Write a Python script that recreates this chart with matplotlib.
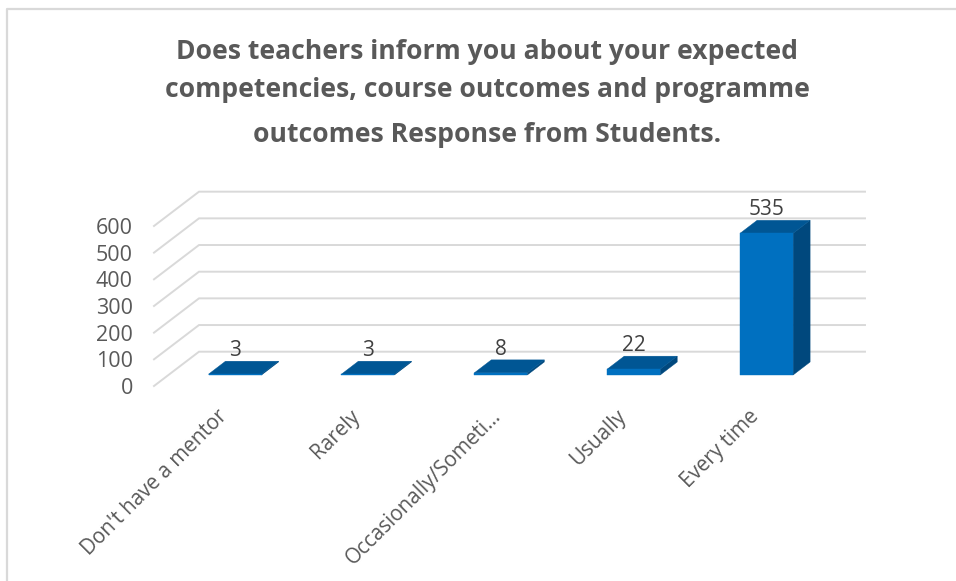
import matplotlib
matplotlib.use("Agg")
import matplotlib.pyplot as plt
from matplotlib.lines import Line2D
from matplotlib.patches import Polygon

plt.rcParams['font.family'] = ['Open Sans', 'DejaVu Sans']

# Data
categories = ["Don't have a mentor", "Rarely", "Occasionally/Someti\u2026", "Usually", "Every time"]
values = [3, 3, 8, 22, 535]
ticks = [0, 100, 200, 300, 400, 500, 600]
title_lines = ["Does teachers inform you about your expected",
               "competencies, course outcomes and programme",
               "outcomes Response from Students."]

# Pseudo 3d geometry, in axis units
W, H = 956, 581
PX_X = 132.9      # pixels per category
PX_Y = 0.2667     # pixels per value unit
BAR_SCALE = 0.993 # bars sit on the front plane, a bit smaller than the back wall
BAR_W = 53 / PX_X
DEPTH_X = 17 / PX_X
DEPTH_Y = 13 / PX_Y
WALL_LEFT = (154 - 235) / PX_X
WALL_BACK = (199 - 235) / PX_X
WALL_RIGHT = (865 - 235) / PX_X
FRONT_Y = -11 / PX_Y   # where the front of the gridlines sits
BACK_Y = 23.3 / PX_Y   # where the back wall sits
LONG_LABEL_SHIFT = 8   # the truncated label sits a bit further right

FRONT_COLOR = "#0070c0"
TOP_COLOR = "#005694"
SIDE_COLOR = "#00487d"
GRID_COLOR = "#d9d9d9"

fig = plt.figure(figsize=(W / 100, H / 100), dpi=100)
ax = fig.add_axes([0, 0, 1, 1])
ax.set_xlim(-235 / PX_X, (W - 235) / PX_X)
ax.set_ylim(-(H - 375) / PX_Y, 375 / PX_Y)
ax.axis("off")

# chart border
fig.add_artist(Line2D([6.5 / W, 6.5 / W, 1], [0, 1 - 8.5 / H, 1 - 8.5 / H], color="#d9d9d9", lw=1.6))

# title
for line, py in zip(title_lines, [52, 90, 135]):
    ax.text(487 / W, 1 - py / H, line, transform=ax.transAxes, ha="center", va="center",
            fontsize=19.1, fontweight="bold", color="#595959")

# gridlines and value labels
for t in ticks:
    ax.plot([WALL_LEFT, WALL_BACK, WALL_RIGHT], [t + FRONT_Y, t + BACK_Y, t + BACK_Y],
            color=GRID_COLOR, lw=1.4, zorder=1, solid_joinstyle="miter")
    ax.text((133 - 235) / PX_X, t + FRONT_Y, str(t), ha="right", va="center_baseline",
            fontsize=15.5, color="#595959")

# bars
for i, (cat, v) in enumerate(zip(categories, values)):
    h = v * BAR_SCALE
    x0 = i - BAR_W / 2
    x1 = i + BAR_W / 2
    front = [(x0, 0), (x1, 0), (x1, h), (x0, h)]
    top = [(x0, h), (x1, h), (x1 + DEPTH_X, h + DEPTH_Y), (x0 + DEPTH_X, h + DEPTH_Y)]
    side = [(x1, 0), (x1 + DEPTH_X, DEPTH_Y), (x1 + DEPTH_X, h + DEPTH_Y), (x1, h)]
    ax.add_patch(Polygon(side, closed=True, fc=SIDE_COLOR, ec=SIDE_COLOR, lw=0.3, zorder=2))
    ax.add_patch(Polygon(top, closed=True, fc=TOP_COLOR, ec=TOP_COLOR, lw=0.3, zorder=2))
    ax.add_patch(Polygon(front, closed=True, fc=FRONT_COLOR, ec=FRONT_COLOR, lw=0.3, zorder=3))

    ax.text(i, h + DEPTH_Y + 13 / PX_Y, str(v), ha="center", va="center_baseline",
            fontsize=15, color="#404040", zorder=4)

    # category label, its end sits under the bar
    shift = LONG_LABEL_SHIFT if cat.endswith("\u2026") else 0
    ax.text(i + (shift - 18) / PX_X, -31 / PX_Y, cat, ha="right", va="top", rotation=45,
            rotation_mode="anchor", fontsize=14.9, color="#595959")

fig.savefig("out.png", dpi=100)
